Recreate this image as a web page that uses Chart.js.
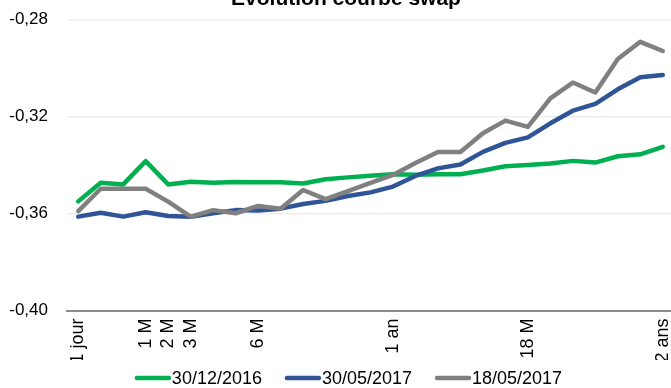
<!DOCTYPE html>
<html>
<head>
<meta charset="utf-8">
<script src="https://cdn.jsdelivr.net/npm/chart.js@4/dist/chart.umd.min.js"></script>
<style>
  html, body { margin: 0; padding: 0; background: #ffffff; overflow: hidden; }
  #wrap { width: 671px; height: 388px; overflow: hidden; position: relative; }
  canvas { display: block; }
</style>
</head>
<body>
<div id="wrap"><canvas id="chart" width="674" height="388"></canvas></div>
<script>
// Maturities of the swap curve (1 day, 1-2 weeks, then 1 to 24 months)
const maturities = ['1J', '1S', '2S', '1M', '2M', '3M', '4M', '5M', '6M', '7M', '8M', '9M', '10M', '11M',
  '12M', '13M', '14M', '15M', '16M', '17M', '18M', '19M', '20M', '21M', '22M', '23M', '24M'];

// Labels printed under the axis ('' = no label for that maturity)
const tickLabels = ['1 jour', '', '', '1 M', '2 M', '3 M', '', '', '6 M', '', '', '', '', '',
  '1 an', '', '', '', '', '', '18 M', '', '', '', '', '', '2 ans'];

const seriesNames = ['30/12/2016', '30/05/2017', '18/05/2017'];

// Swap rates (%)
const swap20161230 = [-0.3550, -0.3473, -0.3480, -0.3384, -0.3480, -0.3469, -0.3473, -0.3470, -0.3471,
  -0.3471, -0.3476, -0.3459, -0.3451, -0.3444, -0.3438, -0.3440, -0.3438, -0.3438, -0.3423, -0.3405,
  -0.3400, -0.3394, -0.3383, -0.3390, -0.3364, -0.3356, -0.3325];
const swap20170530 = [-0.3613, -0.3597, -0.3613, -0.3595, -0.3610, -0.3613, -0.3599, -0.3586, -0.3588,
  -0.3580, -0.3561, -0.3548, -0.3528, -0.3513, -0.3489, -0.3445, -0.3414, -0.3398, -0.3346, -0.3309,
  -0.3286, -0.3228, -0.3176, -0.3148, -0.3088, -0.3038, -0.3029];
const swap20170518 = [-0.3590, -0.3498, -0.3498, -0.3498, -0.3551, -0.3613, -0.3586, -0.3599, -0.3569,
  -0.3580, -0.3503, -0.3541, -0.3508, -0.3474, -0.3441, -0.3392, -0.3346, -0.3346, -0.3269, -0.3217,
  -0.3243, -0.3125, -0.3060, -0.3101, -0.2963, -0.2892, -0.2930];

const yTicks = [-0.40, -0.36, -0.32, -0.28];

const colors = ['#00b050', '#2f5597', '#808080'];
const FONT = '"Liberation Sans", Arial, sans-serif';

function lineSet(label, data, color, order) {
  return {
    label, data, order,
    borderColor: color,
    backgroundColor: color,
    borderWidth: 4.5,
    pointRadius: 0,
    pointHoverRadius: 0,
    tension: 0,
    borderCapStyle: 'round',
    borderJoinStyle: 'round'
  };
}

// Title, partly above the top edge of the canvas
const titlePlugin = {
  id: 'topTitle',
  afterDraw(chart) {
    const ctx = chart.ctx;
    ctx.save();
    ctx.font = 'bold 21px ' + FONT;
    ctx.fillStyle = '#000000';
    ctx.textAlign = 'center';
    ctx.textBaseline = 'alphabetic';
    ctx.fillText('Evolution courbe swap', 346, 5);
    ctx.restore();
  }
};

// Legend row: a short thick line followed directly by the series name
const lineLegendPlugin = {
  id: 'lineLegend',
  afterDraw(chart) {
    const ctx = chart.ctx;
    const swatch = 36, gapText = 1, gapItem = 23, cy = 378, centerX = 348.5;
    ctx.save();
    ctx.font = '18px ' + FONT;
    const items = chart.data.datasets.map(ds => ({
      ds, w: swatch + gapText + ctx.measureText(ds.label).width
    }));
    const total = items.reduce((s, it) => s + it.w, 0) + gapItem * (items.length - 1);
    let x = centerX - total / 2;
    items.forEach(({ ds, w }) => {
      ctx.strokeStyle = ds.borderColor;
      ctx.lineWidth = 4.5;
      ctx.lineCap = 'round';
      ctx.beginPath();
      ctx.moveTo(x + 2, cy);
      ctx.lineTo(x + swatch - 2, cy);
      ctx.stroke();
      ctx.fillStyle = '#000000';
      ctx.textAlign = 'left';
      ctx.textBaseline = 'middle';
      ctx.fillText(ds.label, x + swatch + gapText, cy + 1);
      x += w + gapItem;
    });
    ctx.restore();
  }
};

new Chart(document.getElementById('chart'), {
  type: 'line',
  data: {
    labels: maturities,
    datasets: [
      lineSet(seriesNames[0], swap20161230, colors[0], 2),
      lineSet(seriesNames[1], swap20170530, colors[1], 1),
      lineSet(seriesNames[2], swap20170518, colors[2], 0)
    ]
  },
  options: {
    responsive: false,
    animation: false,
    devicePixelRatio: 1,
    layout: { padding: { top: 19.5, left: 0, right: 0, bottom: 28 } },
    plugins: {
      title: { display: false },
      tooltip: { enabled: false },
      legend: { display: false }
    },
    scales: {
      x: {
        type: 'category',
        offset: true,
        grid: { display: false, drawTicks: false },
        border: { display: true, color: '#8c8c8c', width: 2 },
        afterFit(scale) {
          scale.height = 49.5;
          scale.paddingLeft = 0;
          scale.paddingRight = 0;
        },
        ticks: {
          autoSkip: false,
          maxRotation: 90,
          minRotation: 90,
          padding: 8,
          font: { family: FONT, size: 18 },
          color: '#000000',
          callback: (value, index) => tickLabels[index]
        }
      },
      y: {
        min: yTicks[0],
        max: yTicks[yTicks.length - 1],
        afterFit(scale) {
          scale.width = 67;
          scale.paddingTop = 0;
          scale.paddingBottom = 0;
        },
        afterBuildTicks(scale) { scale.ticks = yTicks.map(v => ({ value: v })); },
        grid: {
          drawTicks: false,
          color: '#eeeeee',
          lineWidth: 1.5
        },
        border: { display: false },
        ticks: {
          padding: 19,
          font: { family: FONT, size: 17 },
          color: '#000000',
          callback: v => v.toFixed(2).replace('.', ',')
        }
      }
    }
  },
  plugins: [titlePlugin, lineLegendPlugin]
});
</script>
</body>
</html>
